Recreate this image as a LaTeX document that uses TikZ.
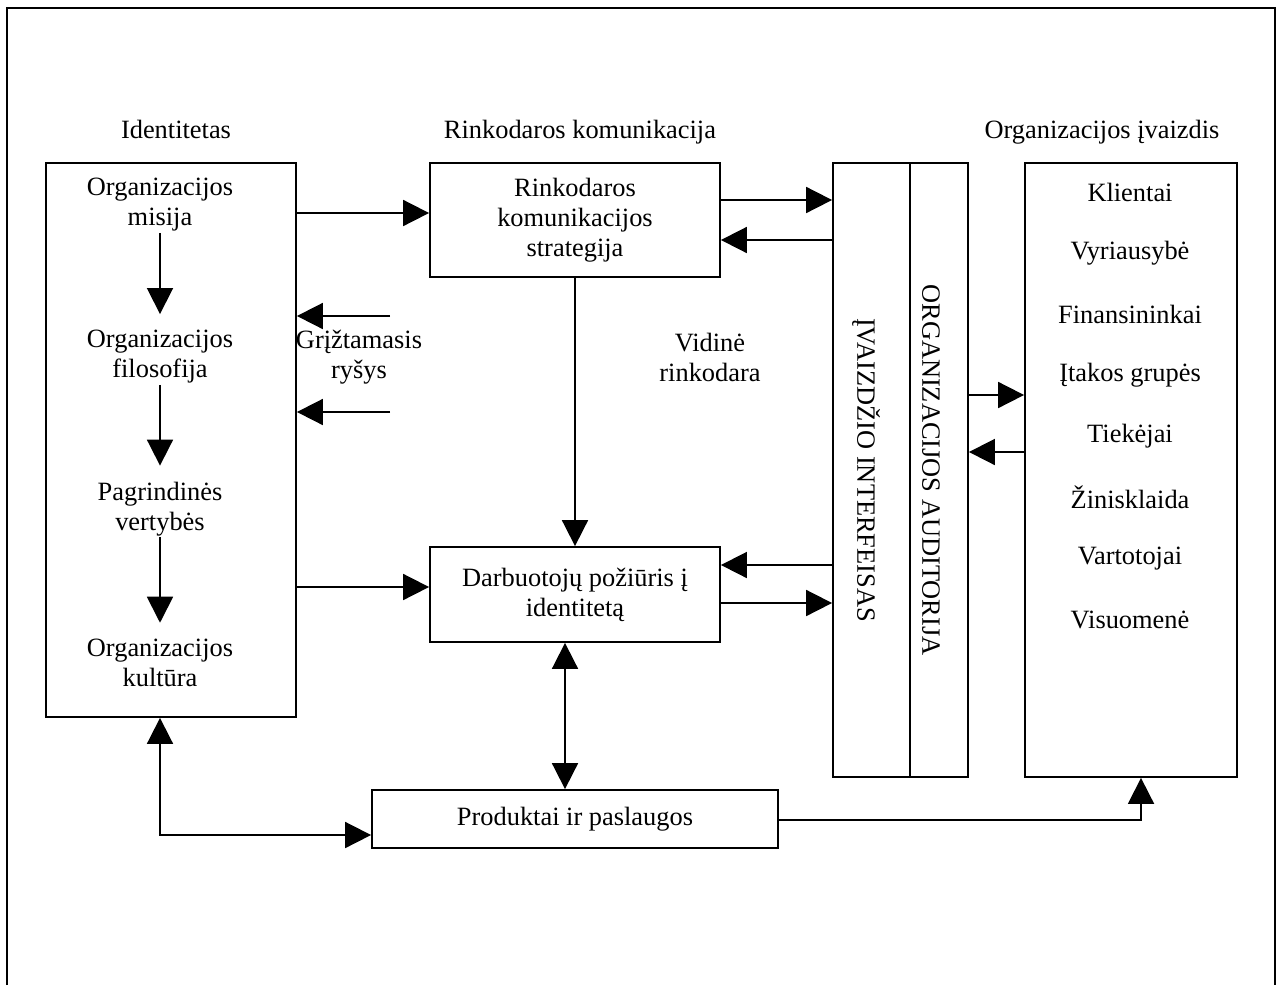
\documentclass[tikz,border=0pt]{standalone}
\usepackage{fontspec}
\setmainfont{Liberation Serif}
\usetikzlibrary{arrows.meta}
\begin{document}
\begin{tikzpicture}[x=0.5pt,y=-0.5pt,
  every node/.style={font=\fontsize{13.2}{15}\selectfont, align=center, inner sep=0pt},
  box/.style={draw, line width=0.9pt},
  title/.style={anchor=base},
  arr/.style={line width=0.9pt, -{Triangle[length=13pt,width=13pt]}},
  arrb/.style={line width=0.9pt, {Triangle[length=13pt,width=13pt]}-{Triangle[length=13pt,width=13pt]}},
  inarr/.style={arr, shorten <=0.5pt, shorten >=8pt}]
\useasboundingbox (0,0) rectangle (1283,985);
% outer frame (open at the bottom)
\draw[line width=1.1pt] (7,985) -- (7,8) -- (1275,8) -- (1275,985);

% titles
\node[title] (h1) at (176,138) {Identitetas};
\node[title] (h2) at (580,138) {Rinkodaros komunikacija};
\node[title] (h3) at (1102,138) {Organizacijos įvaizdis};

% boxes
\node[box, minimum width=125pt, minimum height=277pt] (L) at (171,440) {};
\node[box, minimum width=145pt, minimum height=57pt] (R) at (575,220) {Rinkodaros\\komunikacijos\\strategija};
\node[box, minimum width=145pt, minimum height=47.5pt] (D) at (575,594.5) {Darbuotojų požiūris į\\identitetą};
\node[box, minimum width=38.5pt, minimum height=307pt] (I1) at (871.5,470) {};
\node[box, minimum width=29pt, minimum height=307pt] (I2) at (939,470) {};
\node[box, minimum width=106pt, minimum height=307pt] (K) at (1131,470) {};
\node[box, minimum width=203pt, minimum height=29pt] (P) at (575,819) {Produktai ir paslaugos};

% vertical texts
\node[rotate=-90] (i1t) at (866,470) {ĮVAIZDŽIO INTERFEISAS};
\node[rotate=-90] (i2t) at (931,470) {ORGANIZACIJOS AUDITORIJA};

% identity chain
\node (t1) at (160,205) {Organizacijos\\misija};
\node (t2) at (160,357) {Organizacijos\\filosofija};
\node (t3) at (160,509) {Pagrindinės\\vertybės};
\node (t4) at (160,663) {Organizacijos\\kultūra};
\draw[inarr] (t1) -- (t2);
\draw[inarr] (t2) -- (t3);
\draw[inarr] (t3) -- (t4);

% audience list
\node (k1) at (1130,192) {Klientai};
\node (k2) at (1130,253) {Vyriausybė};
\node (k3) at (1130,314) {Finansininkai};
\node (k4) at (1130,375) {Įtakos grupės};
\node (k5) at (1130,436) {Tiekėjai};
\node (k6) at (1130,497) {Žinisklaida};
\node (k7) at (1130,559) {Vartotojai};
\node (k8) at (1130,620) {Visuomenė};

% free labels
\node (fb) at (359,357) {Grįžtamasis\\ryšys};
\node (vr) at (710,357) {Vidinė\\rinkodara};

% connectors
\draw[arr] (L.east |- 0,213) -- (R.west |- 0,213);
\draw[arr] (L.east |- 0,587) -- (D.west |- 0,587);
\coordinate (fb1) at (390,316);
\coordinate (fb2) at (390,412);
\draw[arr] (fb1) -- (L.east |- fb1);
\draw[arr] (fb2) -- (L.east |- fb2);
\draw[arr] (R) -- (D);
\draw[arr] (R.east |- 0,200) -- (I1.west |- 0,200);
\draw[arr] (I1.west |- 0,240) -- (R.east |- 0,240);
\draw[arr] (I1.west |- 0,565) -- (D.east |- 0,565);
\draw[arr] (D.east |- 0,603) -- (I1.west |- 0,603);
\draw[arr] (I2.east |- 0,395) -- (K.west |- 0,395);
\draw[arr] (K.west |- 0,452) -- (I2.east |- 0,452);
\draw[arrb] (t4 |- L.south) -- (t4 |- 0,835) -- (P.west |- 0,835);
\draw[arrb] (565,0 |- D.south) -- (565,0 |- P.north);
\draw[arr] (P.east |- 0,820) -| (1141,0 |- K.south);
\end{tikzpicture}
\end{document}
